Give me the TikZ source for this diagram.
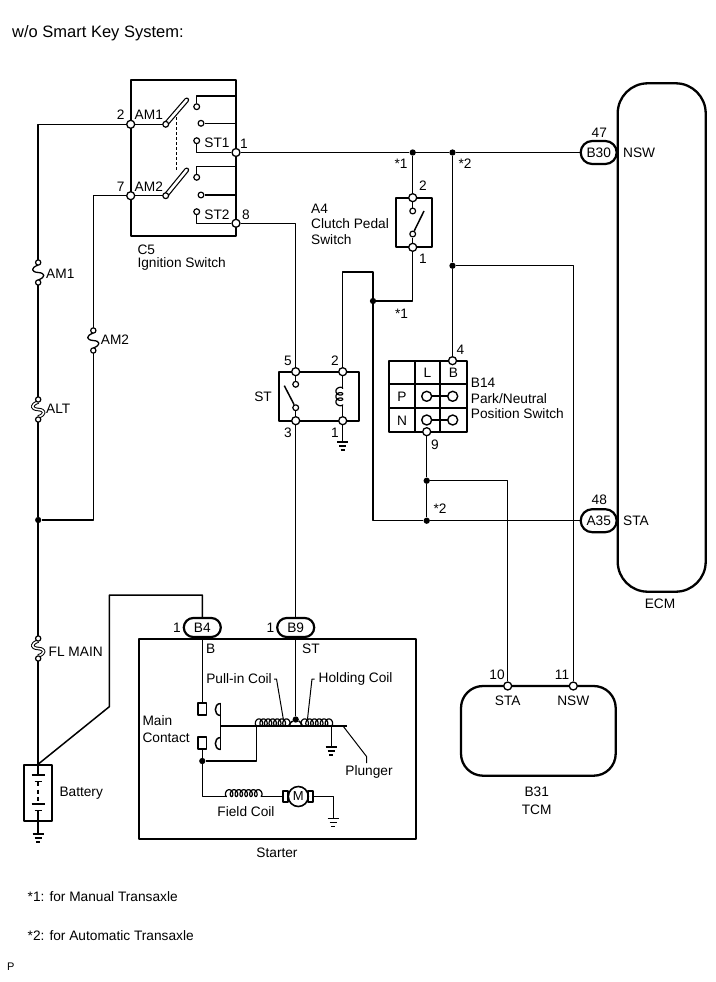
\documentclass[tikz,border=0pt]{standalone}
\usepackage{fontspec}
\setmainfont{Liberation Sans}
\begin{document}
\begin{tikzpicture}[x=1pt,y=-1pt,line join=round,
  every node/.style={inner sep=0pt, font=\fontsize{13.7}{15}\selectfont},
  wire/.style={line width=1.5pt},
  partbox/.style={draw, line width=2.3pt, rectangle, inner sep=0pt},
  pinc/.style={circle, draw, fill=white, line width=1.3pt, inner sep=0pt, minimum size=8pt},
  cont/.style={circle, draw, fill=white, line width=1.2pt, inner sep=0pt, minimum size=5.8pt},
  jdot/.style={circle, fill=black, inner sep=0pt, minimum size=6.3pt},
  connb/.style={draw, fill=white, line width=2.2pt, rounded corners=9.5pt, minimum width=37pt, minimum height=19pt},
  conne/.style={draw, fill=white, line width=2.2pt, rounded corners=11.5pt, minimum width=36pt, minimum height=23pt},
  coilw/.style={line width=1.2pt, smooth},
  gnd/.pic={\draw[line width=1.4pt] (-5.7,0)--(5.7,0) (-3.7,4)--(3.7,4) (-2,8)--(2,8);},
  fusepic/.pic={
    \coordinate (-t) at (0,0); \coordinate (-b) at (0,25);
    \draw[line width=1.3pt] (0,5) .. controls (-8,8) and (-7,12) .. (0,12.5) .. controls (7,13) and (8,17) .. (0,20);
    \node[cont, minimum size=5.3pt] at (0,2.5) {};
    \node[cont, minimum size=5.3pt] at (0,22.5) {};},
  hfusepic/.pic={
    \coordinate (-t) at (0,0); \coordinate (-b) at (0,25);
    \draw[line width=1pt, double=white, double distance=1.5pt] (0,5) .. controls (-8,8) and (-7,12) .. (0,12.5) .. controls (7,13) and (8,17) .. (0,20);
    \node[cont, minimum size=5.3pt] at (0,2.5) {};
    \node[cont, minimum size=5.3pt] at (0,22.5) {};}
]
\useasboundingbox (0,0) rectangle (715,982);
\fill[white] (0,0) rectangle (715,982);

% title
\node[anchor=west, font=\fontsize{16.5}{18}\selectfont] (title) at (12,33) {w/o Smart Key System:};

% ================= C5 Ignition switch =================
\node[partbox, minimum width=105.3pt, minimum height=155.7pt] (c5) at (183.35,157.85) {};
\coordinate (c5b1) at (236,96);
\coordinate (c5b2) at (236,123.3);
\coordinate (c5b3) at (236,166.7);
\coordinate (c5b4) at (236,195);
\coordinate (am1top) at (186.7,100);
\coordinate (am2top) at (186.7,170);
\draw[wire] (165.7,124.3) -- (130.7,124.3);
\draw[wire] (165.7,195.7) -- (130.7,195.7);
\draw[line width=1.2pt, double=white, double distance=2.6pt, line cap=round] (165.7,124.3) -- (am1top);
\draw[line width=1.2pt, double=white, double distance=2.6pt, line cap=round] (165.7,195.7) -- (am2top);
\draw[wire, dash pattern=on 3pt off 2pt] (176.7,117.3) -- (176.7,171.7);
\node[cont] (am1piv) at (165.7,124.3) {};
\node[cont] (am2piv) at (165.7,195.7) {};
\node[cont] (k1a) at (196.7,106.7) {};
\node[cont] (k1b) at (201,123.3) {};
\node[cont] (k1c) at (196.7,140.7) {};
\node[cont] (k2a) at (196.7,177.3) {};
\node[cont] (k2b) at (201,195) {};
\node[cont] (k2c) at (196.7,211.7) {};
\node[pinc] (c5p2) at (130.7,124.3) {};
\node[pinc] (c5p7) at (130.7,195.7) {};
\node[pinc] (c5p1) at (236,152.5) {};
\node[pinc] (c5p8) at (236,223.3) {};
\draw[wire] (k1a) |- (c5b1);
\draw[wire] (k1b) -- (c5b2);
\draw[wire] (k1c) |- (c5p1);
\draw[wire] (k2a) |- (c5b3);
\draw[wire] (k2b) -- (c5b4);
\draw[wire] (k2c) |- (c5p8);
\node (l2) at (120.7,115) {2};
\node (lam1) at (148.8,115) {AM1};
\node (l7) at (120.7,186.7) {7};
\node (lam2) at (148.8,186.7) {AM2};
\node (lst1) at (217,142.7) {ST1};
\node (lst2) at (217,214.3) {ST2};
\node (l1) at (244,143.3) {1};
\node (l8) at (246,214.5) {8};
\node[anchor=west] (lc5) at (137.3,249.3) {C5};
\node[anchor=west] (lign) at (137.3,264.3) {Ignition Switch};

% ================= Left power feed =================
\pic (am1) at (38.2,260) {fusepic};
\pic (am2) at (93.3,328) {fusepic};
\pic (alt) at (38.2,397) {hfusepic};
\pic (flm) at (38.2,636) {hfusepic};
\node[jdot] (j1) at (38.2,520) {};
\draw[wire] (c5p2) -| (am1-t);
\draw[wire] (am1-b) -- (alt-t);
\draw[wire] (alt-b) -- (j1) -- (flm-t);
\draw[wire] (c5p7) -| (am2-t);
\coordinate (am2c) at (93.3,520);
\draw[wire] (am2-b) -- (am2c) -- (j1);
\node[anchor=west] (lfam1) at (46,273.3) {AM1};
\node[anchor=west] (lfam2) at (100.7,340) {AM2};
\node[anchor=west] (lfalt) at (46,409) {ALT};
\node[anchor=west] (lfflm) at (48.5,651.7) {FL MAIN};

% battery
\node[partbox, line width=1.8pt, minimum width=28.3pt, minimum height=55.7pt] (bat) at (38.2,792.9) {};
\draw[wire] (bat.north) -- (38.2,775);
\draw[wire] (31.5,775) -- (45,775);
\draw[wire] (34.5,781.5) -- (42,781.5);
\draw[wire] (38.2,781.5) -- (38.2,786);
\draw[wire, dash pattern=on 4pt off 3pt] (38.2,789.5) -- (38.2,801);
\draw[wire] (31.5,804) -- (45,804);
\draw[wire] (34.5,810.5) -- (42,810.5);
\draw[wire] (38.2,810.5) -- (bat.south);
\coordinate (batg) at (38.2,834);
\draw[wire] (bat.south) -- (batg);
\pic at (batg) {gnd};
\draw[wire] (flm-b) -- (bat.north);
\node[anchor=west] (lbat) at (59.3,793.3) {Battery};

% ================= Starter =================
\node[partbox, minimum width=276.7pt, minimum height=200pt] (starter) at (277.35,739.3) {};
\node (lstarter) at (277,853) {Starter};
\node[connb] (b4) at (202.3,627.5) {B4};
\node[connb] (b9) at (295.7,627.5) {B9};
\node (lb4) at (177,627.5) {1};
\node (lb9) at (270.5,627.5) {1};
\node[anchor=west] (lbb) at (206,649) {B};
\node[anchor=west] (lbst) at (302,649) {ST};
\coordinate (cb1) at (109.3,706.7);
\coordinate (cb2) at (109.3,595);
\draw[wire] (bat.north) -- (cb1) -- (cb2) -| (b4);

\node[draw, line width=1.5pt, minimum width=8.4pt, minimum height=12pt] (mcu) at (202.3,709) {};
\node[draw, line width=1.5pt, minimum width=8.4pt, minimum height=12pt] (mcl) at (202.3,743) {};
\node[jdot] (jst) at (202.3,761) {};
\draw[wire] (b4) -- (mcu);
\draw[wire] (mcl) -- (jst);
% moving contact
\draw[wire] (220.7,703) -- (220.7,750);
\draw[wire] (220.7,703.5) .. controls (213.5,703.5) and (213.5,715.5) .. (220.7,715.5);
\draw[wire] (220.7,737.5) .. controls (213.5,737.5) and (213.5,749.5) .. (220.7,749.5);
% plunger
\coordinate (plend) at (347.3,725.7);
\draw[line width=1.8pt] (220.7,725.7) -- (plend);
% coils (prolate cycloids)
\coordinate (pcl) at (256.7,725.7);
\coordinate (pcr) at (288.7,725.7);
\coordinate (hcl) at (302.3,725.7);
\coordinate (hcr) at (331.3,725.7);
\draw[coilw] plot[domain=0:7, samples=200, variable=\t] ({256.7+\t*4.571-2.4*sin(\t*360)},{725.7-3.4*(1-cos(\t*360))});
\draw[coilw] plot[domain=0:6, samples=180, variable=\t] ({302.3+\t*4.833-2.4*sin(\t*360)},{725.7-3.4*(1-cos(\t*360))});
\node[jdot] (jcoil) at (295.7,719.5) {};
\draw[wire] (pcr) .. controls (291,722) .. (jcoil);
\draw[wire] (jcoil) .. controls (300.5,722) .. (hcl);
\draw[wire] (b9) -- (jcoil);
\coordinate (pcd) at (256.7,761);
\draw[wire] (pcl) -- (pcd) -- (jst);
\coordinate (hcg) at (331.3,747);
\draw[wire] (hcr) -- (hcg);
\pic at (hcg) {gnd};
% leaders
\node[anchor=east] (lpull) at (272,679) {Pull-in Coil};
\node[anchor=west] (lhold) at (318.5,679) {Holding Coil};
\draw[line width=1pt] (274,679) -- (276.5,679) -- (283.3,719);
\draw[line width=1pt] (314.5,679) -- (312,679) -- (307.5,719);
\node (lplung) at (369,772) {Plunger};
\draw[line width=1pt] (343,726) -- (366.7,756.7) -- (366.7,763);
\node[anchor=west] (lmain) at (142.3,721) {Main};
\node[anchor=west] (lcont) at (142.3,738) {Contact};
% field coil & motor
\coordinate (fcb) at (202.3,796.5);
\coordinate (fcl) at (226.7,796.5);
\coordinate (fcr) at (260.7,796.5);
\draw[wire] (jst) -- (fcb) -- (fcl);
\draw[coilw] plot[domain=0:7, samples=200, variable=\t] ({226.7+\t*4.857-2.4*sin(\t*360)},{796.5-3.4*(1-cos(\t*360))});
\node[circle, draw, line width=1.6pt, minimum size=20pt, font=\fontsize{13}{14}\selectfont] (mot) at (298.3,796.5) {M};
\draw[line width=1.7pt] (283.3,790.7) rectangle (288.3,802.3);
\draw[line width=1.7pt] (308.3,790.7) rectangle (313.3,802.3);
\draw[wire] (fcr) -- (283.3,796.5);
\coordinate (mr) at (333.3,796.5);
\coordinate (mg) at (333.3,818.5);
\draw[wire] (313.3,796.5) -- (mr) -- (mg);
\pic at (mg) {gnd};
\node (lfield) at (246,811.7) {Field Coil};

% ================= ST relay =================
\node[partbox, minimum width=80.3pt, minimum height=49pt] (rel) at (319.15,396.2) {};
\node[cont] (rsa) at (295.7,384.3) {};
\node[cont] (rsb) at (295.7,407.7) {};
\coordinate (rlev) at (284.3,385.7);
\draw[wire] (rsb) -- (rlev);
\coordinate (rct) at (342.7,388.5);
\coordinate (rcb) at (342.7,404.5);
\draw[coilw] plot[domain=0:3, samples=120, variable=\t] ({342.7-3.4*(1-cos(\t*360))},{388.5+\t*5.333-2.4*sin(\t*360)});
\node[pinc] (r5) at (295.7,371.7) {};
\node[pinc] (r2) at (342.7,371.7) {};
\node[pinc] (r3) at (295.7,420.7) {};
\node[pinc] (r1) at (342.7,420.7) {};
\draw[wire] (r5) -- (rsa);
\draw[wire] (rsb) -- (r3);
\draw[wire] (r2) -- (rct);
\draw[wire] (rcb) -- (r1);
\coordinate (rg) at (342.7,442);
\draw[wire] (r1) -- (rg);
\pic at (rg) {gnd};
\node (lr5) at (288,360.5) {5};
\node (lr2) at (335,360.5) {2};
\node (lr3) at (288,433) {3};
\node (lr1) at (335,433) {1};
\node (lrst) at (263,397) {ST};
\draw[wire] (c5p8) -| (r5);
\draw[wire] (r3) -- (b9);

% ================= A4 clutch switch =================
\node[partbox, minimum width=35.7pt, minimum height=49.6pt] (a4) at (413.85,222.5) {};
\node[cont] (a4ka) at (412.7,211) {};
\node[cont] (a4kb) at (412.7,234) {};
\coordinate (a4lev) at (424,211);
\draw[wire] (a4kb) -- (a4lev);
\node[pinc] (a4p2) at (412.7,197.7) {};
\node[pinc] (a4p1) at (412.7,247.3) {};
\draw[wire] (a4p2) -- (a4ka);
\draw[wire] (a4kb) -- (a4p1);
\node (la42) at (423,186) {2};
\node (la41) at (423,259) {1};
\node[anchor=west] (la4) at (311,208.5) {A4};
\node[anchor=west] (la4b) at (311,224) {Clutch Pedal};
\node[anchor=west] (la4c) at (311,239.5) {Switch};

% ================= ECM =================
\node[draw, line width=2.3pt, rounded corners=30pt, minimum width=88pt, minimum height=508.4pt] (ecm) at (661.7,337.5) {};
\node (lecm) at (660,604) {ECM};
\node[conne] (b30) at (598.7,152.5) {B30};
\node[conne] (a35) at (598.7,520.7) {A35};
\node (l47) at (599.3,132.3) {47};
\node (l48) at (599.3,500) {48};
\node[anchor=west] (lnsw) at (623,152.7) {NSW};
\node[anchor=west] (lsta) at (623,520.7) {STA};

% ================= B14 =================
\node[partbox, minimum width=77.7pt, minimum height=71pt] (b14) at (427.85,396.2) {};
\draw[line width=1.8pt] (415,360.7) -- (415,431.7);
\draw[line width=1.8pt] (440,360.7) -- (440,431.7);
\draw[line width=1.8pt] (389,384.3) -- (466.7,384.3);
\draw[line width=1.8pt] (389,408.3) -- (466.7,408.3);
\node (lL) at (427.5,372.8) {L};
\node (lB) at (453.5,372.8) {B};
\node (lP) at (402,396.5) {P};
\node (lN) at (402,420.5) {N};
\draw[line width=2.2pt] (426.7,396.3) -- (452.7,396.3);
\draw[line width=2.2pt] (426.7,420) -- (452.7,420);
\node[circle, draw, fill=white, line width=1.4pt, minimum size=10pt] (pL) at (426.7,396.3) {};
\node[circle, draw, fill=white, line width=1.4pt, minimum size=10pt] (pB) at (452.7,396.3) {};
\node[circle, draw, fill=white, line width=1.4pt, minimum size=10pt] (nL) at (426.7,420) {};
\node[circle, draw, fill=white, line width=1.4pt, minimum size=10pt] (nB) at (452.7,420) {};
\node[pinc] (b14p4) at (452.5,360.7) {};
\node[pinc] (b14p9) at (426.7,431.7) {};
\node (lb4n) at (460.5,350) {4};
\node (lb9n) at (435,444.5) {9};
\node[anchor=west] (lb14a) at (470.7,382.7) {B14};
\node[anchor=west] (lb14b) at (470.7,398.3) {Park/Neutral};
\node[anchor=west] (lb14c) at (470.7,414) {Position Switch};

% ================= TCM =================
\node[draw, line width=2.3pt, rounded corners=22pt, minimum width=154.7pt, minimum height=89.7pt] (tcm) at (538.35,730.85) {};
\node[pinc] (t10) at (507.7,686) {};
\node[pinc] (t11) at (573.3,686) {};
\node (lt10) at (497,675) {10};
\node (lt11) at (562,675) {11};
\node (lt10b) at (507.7,700.5) {STA};
\node (lt11b) at (573.3,700.5) {NSW};
\node (lb31) at (536.7,792) {B31};
\node (ltcm) at (536.7,810) {TCM};

% ================= Signal wiring =================
\node[jdot] (d1) at (412.7,152.5) {};
\node[jdot] (d2) at (452.5,152.5) {};
\node[jdot] (d3) at (452.5,265.7) {};
\node[jdot] (cj) at (373,301) {};
\node[jdot] (d4) at (426.7,480.7) {};
\node[jdot] (d5) at (426.7,520.7) {};
\draw[wire] (c5p1) -- (d1) -- (d2) -- (b30);
\draw[wire] (d1) -- (a4p2);
\coordinate (a4c) at (412.7,301);
\draw[wire] (a4p1) -- (a4c) -- (cj);
\draw[wire] (d2) -- (d3) -- (b14p4);
\draw[wire] (d3) -| (t11);
\coordinate (w1) at (342.7,272);
\coordinate (w2) at (373,272);
\draw[wire] (r2) -- (w1) -- (w2) -- (cj);
\draw[wire] (cj) |- (d5) -- (a35);
\draw[wire] (b14p9) -- (d4) -- (d5);
\draw[wire] (d4) -| (t10);
\node (ls1a) at (401,163.5) {*1};
\node (ls2a) at (465,163.5) {*2};
\node (ls1b) at (401.5,313.5) {*1};
\node (ls2b) at (440,508.5) {*2};

% ================= Footnotes =================
\node[anchor=west] (fn1) at (27.5,896.5) {*1: for Manual Transaxle};
\node[anchor=west] (fn2) at (27.5,935.5) {*2: for Automatic Transaxle};
\node[anchor=west, font=\fontsize{11}{12}\selectfont] (fnp) at (7,967) {P};
\end{tikzpicture}
\end{document}
